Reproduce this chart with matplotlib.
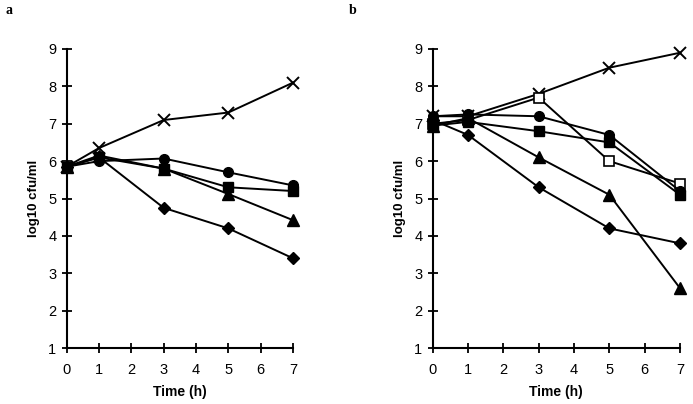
import matplotlib
matplotlib.use("Agg")
import matplotlib.pyplot as plt

plt.rcParams['font.family'] = ['Liberation Sans', 'DejaVu Sans']

times = [0, 1, 3, 5, 7]
yticks = [1, 2, 3, 4, 5, 6, 7, 8, 9]
xticks = [0, 1, 2, 3, 4, 5, 6, 7]

# Panel a
a_cross = [5.85, 6.35, 7.1, 7.3, 8.1]
a_circle = [5.85, 6.0, 6.07, 5.7, 5.35]
a_square = [5.85, 6.1, 5.8, 5.3, 5.2]
a_triangle = [5.85, 6.15, 5.8, 5.12, 4.42]
a_diamond = [5.85, 6.1, 4.75, 4.2, 3.4]

# Panel b
b_cross = [7.2, 7.2, 7.8, 8.5, 8.9]
b_open_square = [7.0, 7.1, 7.7, 6.0, 5.4]
b_circle = [7.2, 7.25, 7.2, 6.7, 5.2]
b_square = [6.95, 7.05, 6.8, 6.5, 5.1]
b_triangle = [6.95, 7.15, 6.1, 5.1, 2.6]
b_diamond = [7.1, 6.7, 5.3, 4.2, 3.8]

W, H = 693, 404
fig = plt.figure(figsize=(W / 100, H / 100), dpi=100)

def make_ax(x0, x1, y0, y1):
    return fig.add_axes([x0 / W, 1 - y1 / H, (x1 - x0) / W, (y1 - y0) / H])

axa = make_ax(66.7, 293, 49, 348)
axb = make_ax(432.7, 680, 49, 348)

lw = 1.4
ms = 7

def series(ax, y, marker, size=ms, face='black', mew=1.0):
    ax.plot(times, y, color='black', lw=lw, marker=marker, markersize=size,
            markerfacecolor=face, markeredgecolor='black', markeredgewidth=mew,
            clip_on=False, zorder=3)

series(axa, a_cross, 'x', 9, mew=1.4)
series(axa, a_circle, 'o')
series(axa, a_square, 's')
series(axa, a_triangle, '^', 8)
series(axa, a_diamond, 'D', 6)

series(axb, b_cross, 'x', 9, mew=1.4)
series(axb, b_open_square, 's', 7, face='white', mew=1.2)
series(axb, b_circle, 'o')
series(axb, b_square, 's')
series(axb, b_triangle, '^', 8)
series(axb, b_diamond, 'D', 6)

for ax in (axa, axb):
    ax.set_xlim(0, 7)
    ax.set_ylim(1, 9)
    ax.set_xticks(xticks)
    ax.set_yticks(yticks)
    ax.spines['top'].set_visible(False)
    ax.spines['right'].set_visible(False)
    ax.spines['left'].set_linewidth(1.5)
    ax.spines['bottom'].set_linewidth(1.5)
    ax.tick_params(direction='inout', length=7, width=1.3, labelsize=10.5)
    ax.tick_params(axis='x', pad=7)
    ax.tick_params(axis='y', pad=4)
    ax.set_xlabel('Time (h)', fontsize=10, fontweight='bold', labelpad=6)
    ax.set_ylabel('log10 cfu/ml', fontsize=9.5, fontweight='bold', labelpad=6)

fig.text(5 / W, 1 - 10 / H, 'a', fontsize=10, fontweight='bold',
         family='Liberation Serif', va='center', ha='left')
fig.text(349 / W, 1 - 10 / H, 'b', fontsize=10, fontweight='bold',
         family='Liberation Serif', va='center', ha='left')

fig.savefig('out.png', dpi=100)
